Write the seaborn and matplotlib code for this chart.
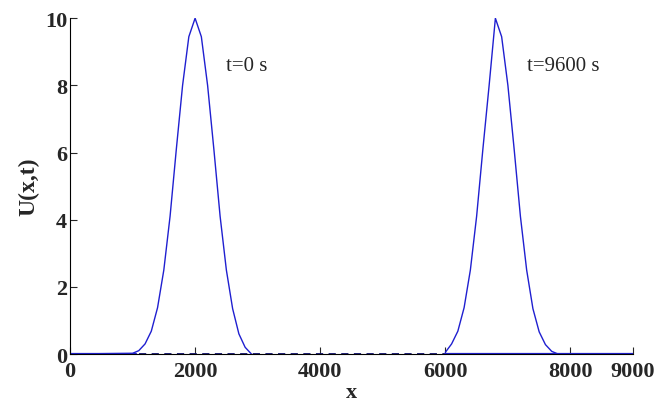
import pandas as pd
import matplotlib.pyplot as plt
import seaborn as sns

# Values
x_t0 = [0, 1000, 1100, 1200, 1300, 1400, 1500, 1600, 1700, 1800, 1900, 2000,
        2100, 2200, 2300, 2400, 2500, 2600, 2700, 2800, 2900]
u_t0 = [0.0, 0.02, 0.1, 0.3, 0.68, 1.38, 2.5, 4.1, 6.1, 8.0, 9.45, 10.0,
        9.45, 8.0, 6.1, 4.1, 2.5, 1.35, 0.6, 0.2, 0.0]

x_t9600 = [6000, 6100, 6200, 6300, 6400, 6500, 6600, 6700, 6800,
           6900, 7000, 7100, 7200, 7300, 7400, 7500, 7600, 7700, 7800, 9000]
u_t9600 = [0.05, 0.3, 0.68, 1.38, 2.5, 4.1, 6.1, 8.0, 10.0,
           9.45, 8.0, 6.1, 4.1, 2.5, 1.35, 0.66, 0.28, 0.08, 0.0, 0.0]

x_zero = [1100, 6000]
u_zero = [0.0, 0.0]

x_ticks = [0, 2000, 4000, 6000, 8000, 9000]
y_ticks = [0, 2, 4, 6, 8, 10]
labels = ["t=0 s", "t=9600 s"]
label_x = [2500, 7300]
label_y = [8.6, 8.6]

sns.set_style("ticks")
plt.rcParams['font.family'] = ['Liberation Serif', 'DejaVu Serif']

fig = plt.figure(figsize=(6.57, 4.06), dpi=100)
ax = fig.add_axes([0.1065, 0.1256, 0.857, 0.827])

blue = "#1f1fd0"
sns.lineplot(x=x_zero, y=u_zero, ax=ax, color="#10106e", linewidth=1.3,
             linestyle=(0, (4, 3)))
sns.lineplot(x=x_t0, y=u_t0, ax=ax, color=blue, linewidth=1.0)
sns.lineplot(x=x_t9600, y=u_t9600, ax=ax, color=blue, linewidth=1.0)
ax.plot([0, 1050], [0, 0], color=blue, linewidth=1.6)
ax.plot([6000, 9000], [0, 0], color=blue, linewidth=1.6)

for lab, lx, ly in zip(labels, label_x, label_y):
    ax.text(lx, ly, lab, fontsize=15, va="center", ha="left")

ax.set_xlim(0, 9000)
ax.set_ylim(0, 10)
ax.set_xticks(x_ticks)
ax.set_yticks(y_ticks)
ax.tick_params(direction="in", length=5, width=0.8, labelsize=16)
ax.tick_params(axis="x", pad=5)
ax.tick_params(axis="y", pad=2)
for t in ax.get_xticklabels() + ax.get_yticklabels():
    t.set_fontweight("bold")
ax.set_xlabel("x", fontsize=16, fontweight="bold", labelpad=1)
ax.set_ylabel("U(x,t)", fontsize=17, fontweight="bold", labelpad=4)
sns.despine(ax=ax)
for s in ["left", "bottom"]:
    ax.spines[s].set_linewidth(0.8)
    ax.spines[s].set_color("black")

fig.savefig("out.png", dpi=100)
